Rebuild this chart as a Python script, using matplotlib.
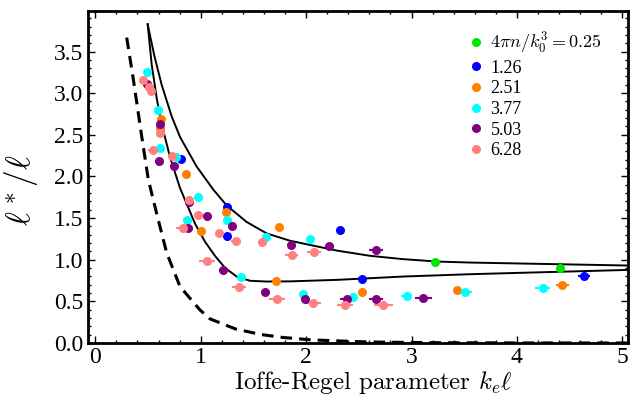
import matplotlib
matplotlib.use("Agg")
import matplotlib.pyplot as plt
from matplotlib.lines import Line2D
from matplotlib.ticker import MultipleLocator

plt.rcParams['mathtext.fontset'] = 'cm'
plt.rcParams['font.family'] = 'serif'
plt.rcParams['font.serif'] = ['Liberation Serif', 'DejaVu Serif']

# theory curves
upperX = [0.497, 0.560, 0.630, 0.725, 0.805, 0.962, 1.120, 1.247, 1.436, 1.626, 1.847,
          2.290, 2.606, 2.919, 3.242, 3.555, 5.064]
upperY = [3.827, 3.449, 3.099, 2.719, 2.471, 2.118, 1.841, 1.651, 1.453, 1.316, 1.228,
          1.110, 1.047, 1.007, 0.978, 0.966, 0.930]
lowerX = [0.497, 0.535, 0.583, 0.630, 0.709, 0.804, 0.946, 1.041, 1.136, 1.231, 1.342,
          1.468, 1.626, 1.847, 2.290, 2.922, 3.555, 5.064]
lowerY = [3.827, 3.344, 2.936, 2.626, 2.231, 1.860, 1.434, 1.216, 1.045, 0.902, 0.797,
          0.747, 0.738, 0.740, 0.758, 0.798, 0.826, 0.878]
dashX = [0.298, 0.361, 0.440, 0.503, 0.583, 0.677, 0.804, 0.993, 1.088, 1.331, 1.572,
         1.777, 2.051, 2.600, 3.200, 4.000, 5.064]
dashY = [3.667, 3.165, 2.483, 1.962, 1.550, 1.083, 0.677, 0.397, 0.290, 0.168, 0.102,
         0.067, 0.037, 0.012, 0.004, 0.001, 0.000]

# data points: x, y, horizontal error
greenX = [3.223, 4.409]
greenY = [0.975, 0.906]
greenE = [0.03, 0.03]

blueX = [0.810, 1.246, 1.246, 2.325, 2.533, 4.637]
blueY = [2.210, 1.628, 1.279, 1.360, 0.767, 0.810]
blueE = [0.02, 0.02, 0.02, 0.02, 0.04, 0.055]

orangeX = [0.623, 0.614, 0.858, 1.237, 1.003, 1.743, 1.714, 2.533, 3.434, 4.431]
orangeY = [2.684, 2.580, 2.030, 1.568, 1.348, 1.388, 0.746, 0.617, 0.638, 0.698]
orangeE = [0.02, 0.02, 0.02, 0.02, 0.02, 0.02, 0.03, 0.02, 0.04, 0.06]

cyanX = [0.493, 0.592, 0.614, 0.766, 0.977, 0.873, 1.246, 1.617, 2.037, 1.382, 1.973,
         2.448, 2.954, 3.508, 4.245]
cyanY = [3.257, 2.795, 2.343, 2.230, 1.749, 1.476, 1.476, 1.272, 1.248, 0.798, 0.586,
         0.557, 0.569, 0.610, 0.666]
cyanE = [0.02, 0.02, 0.02, 0.02, 0.02, 0.02, 0.02, 0.02, 0.02, 0.02, 0.02,
         0.03, 0.055, 0.068, 0.07]

purpleX = [0.488, 0.614, 0.607, 0.747, 0.886, 1.063, 0.883, 1.294, 1.214, 1.610, 1.860,
           2.220, 2.663, 1.990, 2.385, 2.663, 3.112]
purpleY = [3.105, 2.635, 2.186, 2.122, 1.688, 1.520, 1.380, 1.408, 0.878, 0.610, 1.179,
           1.159, 1.111, 0.529, 0.526, 0.529, 0.545]
purpleE = [0.03, 0.02, 0.04, 0.04, 0.03, 0.02, 0.04, 0.03, 0.04, 0.04, 0.04,
           0.04, 0.068, 0.04, 0.063, 0.063, 0.079]

salmonX = [0.456, 0.510, 0.530, 0.614, 0.550, 0.725, 0.892, 0.977, 0.835, 1.176, 1.332,
           1.579, 1.057, 1.366, 1.727, 1.863, 2.078, 2.062, 2.369, 2.733]
salmonY = [3.153, 3.070, 3.020, 2.523, 2.322, 2.242, 1.721, 1.540, 1.380, 1.320, 1.227,
           1.207, 0.987, 0.670, 0.526, 1.059, 1.087, 0.481, 0.457, 0.457]
salmonE = [0.04, 0.03, 0.03, 0.03, 0.05, 0.02, 0.03, 0.02, 0.07, 0.02, 0.04,
           0.03, 0.076, 0.066, 0.075, 0.063, 0.065, 0.075, 0.079, 0.09]

labels = [r'$4\pi n/k_0^3 = 0.25$', '1.26', '2.51', '3.77', '5.03', '6.28']
colours = ['#00e600', '#0000ff', '#ff8000', '#00ffff', '#800080', '#ff8080']

fig = plt.figure(figsize=(6.39, 4.07), dpi=100)
ax = fig.add_axes([87.5 / 639, 64 / 407, 540.5 / 639, 332.3 / 407])

ax.plot(upperX, upperY, color='k', lw=1.4)
ax.plot(lowerX, lowerY, color='k', lw=1.4)
ax.plot(dashX, dashY, color='k', lw=2.2, dashes=(3.8, 2.3))

series = [(greenX, greenY, greenE), (blueX, blueY, blueE), (orangeX, orangeY, orangeE),
          (cyanX, cyanY, cyanE), (purpleX, purpleY, purpleE), (salmonX, salmonY, salmonE)]
for (x, y, e), c in zip(series, colours):
    ax.errorbar(x, y, xerr=e, fmt='o', color=c, ms=6.5, mew=0,
                elinewidth=1.5, capsize=3, capthick=1.5)

ax.set_xlim(-0.074, 5.054)
ax.set_ylim(0, 3.99)
ax.set_xticks([0, 1, 2, 3, 4, 5])
ax.set_yticks([0, 0.5, 1, 1.5, 2, 2.5, 3, 3.5])
ax.set_yticklabels(['0.0', '0.5', '1.0', '1.5', '2.0', '2.5', '3.0', '3.5'])
ax.xaxis.set_minor_locator(MultipleLocator(0.2))
ax.yaxis.set_minor_locator(MultipleLocator(0.1))
ax.tick_params(which='both', direction='in', top=True, right=True, width=1, labelsize=17, pad=3)
ax.tick_params(which='major', length=5)
ax.tick_params(which='minor', length=2.5)
for s in ax.spines.values():
    s.set_linewidth(2)

ax.set_xlabel(r'Ioffe-Regel parameter $k_e\ell$', fontsize=18, family='cmr10')
ax.xaxis.set_label_coords(0.529, -0.078)
ax.set_ylabel(r'$\ell^*/\ell$', fontsize=24)
ax.yaxis.set_label_coords(-0.088, 0.46)

handles = [Line2D([], [], ls='none', marker='o', ms=6.5, mew=0, color=c) for c in colours]
leg = ax.legend(handles, labels, loc='upper left', bbox_to_anchor=(0.7055, 0.94), frameon=False,
                handlelength=0.8, handletextpad=0.4, labelspacing=0.2,
                borderpad=0, borderaxespad=0, prop={'family': 'Liberation Serif', 'size': 13})

fig.savefig('out.png', dpi=100)
